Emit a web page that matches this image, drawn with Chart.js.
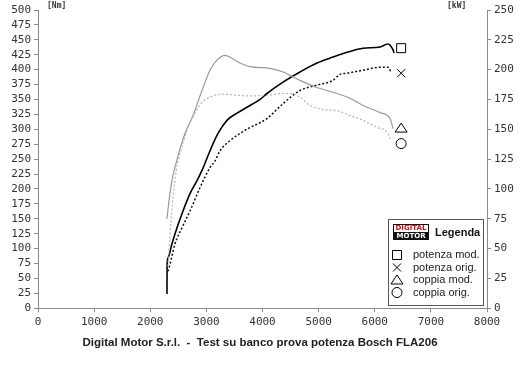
<!DOCTYPE html>
<html>
<head>
<meta charset="utf-8">
<script src="https://cdn.jsdelivr.net/npm/chart.js@4"></script>
<style>
  html, body { margin: 0; padding: 0; background: #fff; }
  #wrap { position: relative; width: 520px; height: 367px; }
</style>
</head>
<body>
<div id="wrap"><canvas id="dynoChart" width="520" height="367"></canvas></div>
<script>
// ===== DATA =====
// potenza mod. (kW)
const modPowerRpm = [2298, 2300, 2316, 2387, 2477, 2584, 2708, 2833, 2922, 3065, 3207, 3367, 3545, 3724, 3956, 4080, 4366, 4668, 4971, 5256, 5505, 5791, 6094, 6236, 6326, 6344];
const modPowerKw  = [12, 35.5, 42, 54, 67.5, 81.5, 96, 107, 115.5, 132, 146.5, 157.5, 163.5, 168.5, 175, 180, 189.5, 198, 205.5, 210.5, 214.5, 218, 219, 221.5, 216.5, 214];

// potenza orig. (kW)
const origPowerRpm = [2316, 2334, 2441, 2566, 2708, 2886, 3065, 3154, 3243, 3421, 3599, 3777, 3956, 4080, 4366, 4668, 4971, 5256, 5381, 5505, 5791, 6094, 6236, 6290];
const origPowerKw  = [31, 33.5, 54, 67.5, 81.5, 101, 118, 123.5, 132, 140.5, 146.5, 151.5, 155.5, 159, 171.5, 182.5, 187, 191, 196, 197, 199.5, 202, 202, 198];

// coppia mod. (Nm)
const modTorqueRpm = [2298, 2334, 2387, 2450, 2619, 2762, 2922, 3065, 3189, 3332, 3456, 3599, 3777, 4133, 4366, 4668, 4971, 5256, 5559, 5791, 6094, 6272, 6326];
const modTorqueNm  = [150, 180, 214, 240, 293, 323, 365, 399, 416, 424, 419, 411, 405, 402, 396, 382, 370, 362, 352, 340, 328, 318, 301];

// coppia orig. (Nm)
const origTorqueRpm = [2316, 2350, 2400, 2460, 2530, 2655, 2797, 2922, 3065, 3296, 3545, 3777, 4080, 4366, 4490, 4668, 4846, 5078, 5327, 5559, 5791, 6040, 6236, 6272];
const origTorqueNm  = [70, 120, 180, 230, 259, 298, 327, 345, 354, 359, 357, 356, 357, 360, 360, 354, 340, 333, 331, 323, 315, 303, 293, 284];

// end-of-curve markers
const markerRpm = 6470;
const markerPowerKw = [218, 197];   // potenza mod., potenza orig.
const markerTorqueNm = [302, 276];  // coppia mod., coppia orig.

const legendLabels = ['potenza mod.', 'potenza orig.', 'coppia mod.', 'coppia orig.'];
const legendStyles = ['rect', 'crossRot', 'triangle', 'circle'];

const titleText = 'Digital Motor S.r.l.  -  Test su banco prova potenza Bosch FLA206';

// ===== HELPERS =====
function toPoints(xs, ys) {
    return xs.map((x, i) => ({ x: x, y: ys[i] }));
}

const tickFont = { family: 'DejaVu Sans Mono', size: 11 };
const axisColor = '#8a8a8a';

function drawMarker(ctx, style, x, y) {
    ctx.save();
    ctx.strokeStyle = '#000';
    ctx.fillStyle = '#fff';
    ctx.lineWidth = 1;
    ctx.beginPath();
    if (style === 'rect') {
        ctx.rect(x - 4.5, y - 4.5, 9, 9);
    } else if (style === 'crossRot') {
        ctx.moveTo(x - 4, y - 4); ctx.lineTo(x + 4, y + 4);
        ctx.moveTo(x + 4, y - 4); ctx.lineTo(x - 4, y + 4);
    } else if (style === 'triangle') {
        ctx.moveTo(x, y - 5); ctx.lineTo(x + 6, y + 4); ctx.lineTo(x - 6, y + 4); ctx.closePath();
    } else {
        ctx.arc(x, y, 5, 0, Math.PI * 2);
    }
    ctx.fill();
    ctx.stroke();
    ctx.restore();
}

// ===== CUSTOM MARKERS + LEGEND PLUGIN =====
const dynoExtras = {
    id: 'dynoExtras',
    afterDatasetsDraw(chart) {
        const ctx = chart.ctx;
        const xs = chart.scales.x, yN = chart.scales.yNm, yK = chart.scales.ykW;
        const mx = xs.getPixelForValue(markerRpm);
        drawMarker(ctx, 'rect', mx, yK.getPixelForValue(markerPowerKw[0]));
        drawMarker(ctx, 'crossRot', mx, yK.getPixelForValue(markerPowerKw[1]));
        drawMarker(ctx, 'triangle', mx, yN.getPixelForValue(markerTorqueNm[0]));
        drawMarker(ctx, 'circle', mx, yN.getPixelForValue(markerTorqueNm[1]));

        // unit labels
        ctx.save();
        ctx.fillStyle = '#333';
        ctx.font = 'bold 8px "DejaVu Sans Mono"';
        ctx.textBaseline = 'middle';
        ctx.fillText('[Nm]', 47, 6);
        ctx.fillText('[kW]', 447, 6);
        ctx.restore();

        // legend box
        const bx = 388, by = 219, bw = 95, bh = 86;
        ctx.save();
        ctx.fillStyle = '#fff';
        ctx.fillRect(bx, by, bw, bh);
        ctx.strokeStyle = '#555';
        ctx.lineWidth = 1;
        ctx.strokeRect(bx + 0.5, by + 0.5, bw, bh);

        // logo
        ctx.fillStyle = '#111';
        ctx.fillRect(393, 224, 36, 16);
        ctx.fillStyle = '#fff';
        ctx.fillRect(394, 225, 34, 7);
        ctx.font = 'bold 7px "DejaVu Sans"';
        ctx.textAlign = 'center';
        ctx.textBaseline = 'middle';
        ctx.fillStyle = '#d0101a';
        ctx.fillText('DIGITAL', 411, 228.5);
        ctx.fillStyle = '#fff';
        ctx.fillText('MOTOR', 411, 236);

        ctx.textAlign = 'left';
        ctx.fillStyle = '#111';
        ctx.font = 'bold 11px "Liberation Sans", sans-serif';
        ctx.fillText('Legenda', 435, 233);

        ctx.font = '11px "Liberation Sans", Arial, sans-serif';
        const rowY = [255, 267.5, 280, 292.5];
        legendLabels.forEach((label, i) => {
            drawMarker(ctx, legendStyles[i], 397, rowY[i]);
            ctx.fillStyle = '#222';
            ctx.fillText(label, 413, rowY[i]);
        });
        ctx.restore();
    }
};

// ===== CHART =====
const ctx = document.getElementById('dynoChart');
new Chart(ctx, {
    type: 'line',
    data: {
        datasets: [
            {
                label: 'coppia orig.',
                data: toPoints(origTorqueRpm, origTorqueNm),
                yAxisID: 'yNm',
                borderColor: '#b4b4b4',
                borderWidth: 1.2,
                borderDash: [2, 2],
                pointRadius: 0,
                cubicInterpolationMode: 'monotone'
            },
            {
                label: 'coppia mod.',
                data: toPoints(modTorqueRpm, modTorqueNm),
                yAxisID: 'yNm',
                borderColor: '#9a9a9a',
                borderWidth: 1.2,
                pointRadius: 0,
                cubicInterpolationMode: 'monotone'
            },
            {
                label: 'potenza orig.',
                data: toPoints(origPowerRpm, origPowerKw),
                yAxisID: 'ykW',
                borderColor: '#111',
                borderWidth: 1.5,
                borderDash: [2, 2],
                pointRadius: 0,
                cubicInterpolationMode: 'monotone'
            },
            {
                label: 'potenza mod.',
                data: toPoints(modPowerRpm, modPowerKw),
                yAxisID: 'ykW',
                borderColor: '#000',
                borderWidth: 1.6,
                pointRadius: 0,
                cubicInterpolationMode: 'monotone'
            }
        ]
    },
    options: {
        responsive: false,
        animation: false,
        layout: { padding: { top: 10, left: 0, right: 0, bottom: 0 } },
        plugins: {
            legend: { display: false },
            tooltip: { enabled: false },
            title: {
                display: true,
                position: 'bottom',
                text: titleText,
                color: '#222',
                font: { family: '"Liberation Sans", sans-serif', size: 11.5, weight: 'bold' },
                padding: { top: 8, bottom: 17 }
            }
        },
        scales: {
            x: {
                type: 'linear',
                min: 0,
                max: 8000,
                ticks: { stepSize: 1000, color: '#333', font: tickFont, padding: 3, maxRotation: 0, autoSkip: false,
                         callback: v => String(v) },
                grid: { drawOnChartArea: false, color: axisColor, tickLength: 4 },
                border: { color: axisColor },
                afterFit: s => { s.height = 20; }
            },
            yNm: {
                position: 'left',
                min: 0,
                max: 500,
                ticks: { stepSize: 25, color: '#333', font: tickFont, padding: 3, autoSkip: false,
                         callback: v => String(v) },
                grid: { drawOnChartArea: false, color: axisColor, tickLength: 4 },
                border: { color: axisColor },
                afterFit: s => { s.width = 38; }
            },
            ykW: {
                position: 'right',
                min: 0,
                max: 250,
                ticks: { stepSize: 25, color: '#333', font: tickFont, padding: 3, autoSkip: false,
                         callback: v => String(v) },
                grid: { drawOnChartArea: false, color: axisColor, tickLength: 4 },
                border: { color: axisColor },
                afterFit: s => { s.width = 33; }
            }
        }
    },
    plugins: [dynoExtras]
});
</script>
</body>
</html>
